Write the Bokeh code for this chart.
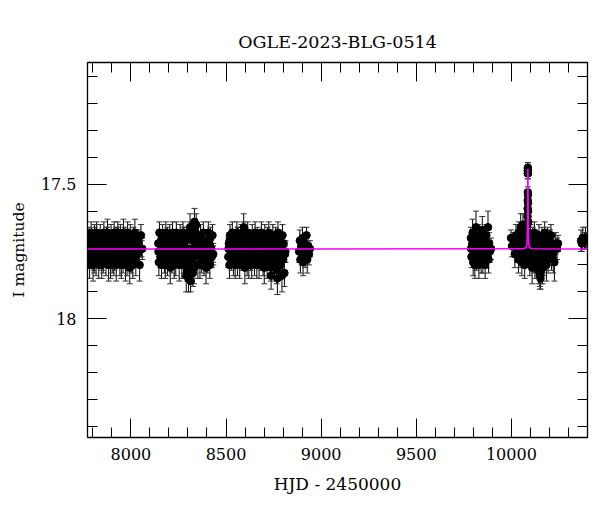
from bokeh.plotting import figure
from bokeh.models import (Range1d, LinearAxis, Whisker, ColumnDataSource,
                          SingleIntervalTicker, CustomJSTickFormatter, TeeHead)
from bokeh.embed import file_html
from bokeh.resources import INLINE

TITLE = "OGLE-2023-BLG-0514"
XLABEL = "HJD - 2450000"
YLABEL = "I magnitude"

# ---- season 1 ----
S1_T = [7778,7780,7783,7785,7788,7791,7793,7796,7799,7801,
        7804,7807,7809,7812,7815,7817,7820,7823,7826,7828,
        7831,7834,7836,7839,7842,7845,7847,7850,7853,7855,
        7858,7861,7864,7866,7869,7872,7874,7877,7880,7883,
        7885,7888,7891,7893,7896,7899,7902,7904,7907,7910,
        7912,7915,7918,7921,7923,7926,7929,7931,7934,7937,
        7940,7942,7945,7948,7950,7953,7956,7959,7961,7964,
        7967,7969,7972,7975,7978,7980,7983,7986,7988,7991,
        7994,7997,7999,8002,8005,8007,8010,8013,8016,8018,
        8021,8024,8026,8029,8032,8035,8040,8046,8053,8060,
        7779,7786,7790,7795,7800,7805,7811,7816,7821,7827,
        7832,7838,7843,7848,7854,7859,7865,7870,7876,7881,
        7887,7892,7897,7903,7908,7914,7919,7924,7930,7935,
        7941,7946,7952,7957,7962,7968,7973,7979,7984,7990,
        7995,8000,8006,8011,8017,8022,8028,8033,8044,8056]
S1_M = [17.76,17.70,17.80,17.72,17.74,17.68,17.77,17.75,17.71,17.80,
        17.73,17.78,17.69,17.76,17.72,17.79,17.68,17.74,17.76,17.70,
        17.80,17.75,17.72,17.69,17.77,17.73,17.80,17.71,17.76,17.78,
        17.68,17.74,17.76,17.72,17.79,17.70,17.75,17.68,17.77,17.80,
        17.72,17.71,17.76,17.80,17.69,17.74,17.78,17.72,17.73,17.79,
        17.68,17.76,17.75,17.70,17.80,17.72,17.77,17.68,17.74,17.76,
        17.71,17.79,17.69,17.76,17.80,17.73,17.72,17.78,17.68,17.75,
        17.77,17.70,17.80,17.72,17.74,17.79,17.68,17.76,17.71,17.76,
        17.81,17.69,17.75,17.78,17.72,17.73,17.80,17.70,17.77,17.74,
        17.68,17.76,17.79,17.72,17.76,17.71,17.75,17.80,17.69,17.74,
        17.74,17.71,17.77,17.73,17.75,17.78,17.70,17.74,17.73,17.76,
        17.72,17.75,17.74,17.78,17.71,17.73,17.76,17.74,17.70,17.75,
        17.77,17.73,17.71,17.75,17.74,17.78,17.72,17.76,17.73,17.70,
        17.75,17.74,17.77,17.72,17.76,17.73,17.75,17.71,17.74,17.78,
        17.73,17.76,17.72,17.75,17.74,17.77,17.71,17.75,17.73,17.74]
S1_E = [.04,.04,.05,.03,.04,.04,.04,.03,.04,.06,
        .03,.05,.04,.04,.03,.05,.04,.04,.04,.03,
        .05,.04,.03,.04,.04,.03,.05,.04,.04,.05,
        .04,.03,.04,.04,.05,.04,.03,.05,.04,.06,
        .03,.04,.04,.05,.04,.03,.05,.04,.03,.05,
        .04,.04,.03,.04,.06,.03,.04,.04,.04,.03,
        .04,.05,.04,.04,.05,.03,.04,.05,.05,.03,
        .04,.04,.06,.03,.04,.05,.04,.04,.04,.03,
        .06,.04,.03,.05,.04,.03,.05,.04,.04,.03,
        .05,.04,.05,.03,.04,.04,.03,.06,.04,.04,
        .04,.03,.04,.04,.03,.04,.04,.03,.04,.04,
        .03,.04,.04,.04,.03,.04,.04,.03,.04,.04,
        .04,.03,.04,.04,.03,.04,.04,.04,.03,.04,
        .04,.03,.04,.04,.04,.03,.04,.04,.03,.04,
        .04,.04,.03,.04,.04,.03,.04,.04,.04,.03]

# ---- season 2 ----
S2_T = [8144,8147,8150,8152,8155,8158,8161,8164,8167,8170,
        8173,8176,8178,8181,8184,8187,8190,8193,8196,8199,
        8202,8204,8207,8210,8213,8216,8219,8222,8225,8228,
        8230,8233,8236,8239,8242,8245,8248,8251,8254,8256,
        8259,8262,8265,8268,8271,8274,8277,8280,8282,8285,
        8288,8291,8294,8297,8300,8303,8306,8308,8311,8314,
        8317,8320,8323,8326,8329,8332,8334,8337,8340,8343,
        8346,8349,8352,8355,8358,8360,8363,8366,8369,8372,
        8375,8378,8381,8384,8386,8389,8392,8395,8398,8401,
        8404,8407,8410,8412,8415,8418,8421,8425,8429,8433,
        8145,8151,8157,8163,8169,8175,8180,8186,8192,8198,
        8203,8209,8215,8221,8227,8232,8238,8244,8250,8255,
        8261,8267,8273,8279,8284,8290,8296,8302,8307,8313,
        8319,8325,8331,8336,8342,8348,8354,8359,8365,8371,
        8377,8383,8388,8394,8400,8406,8411,8417,8423,8431]
S2_M = [17.72,17.79,17.68,17.75,17.77,17.71,17.80,17.73,17.69,17.76,
        17.74,17.78,17.72,17.80,17.68,17.76,17.70,17.79,17.75,17.72,
        17.77,17.69,17.81,17.72,17.74,17.78,17.68,17.76,17.73,17.80,
        17.71,17.76,17.79,17.68,17.75,17.70,17.77,17.72,17.80,17.74,
        17.69,17.76,17.72,17.80,17.76,17.68,17.78,17.73,17.77,17.71,
        17.75,17.84,17.70,17.74,17.79,17.85,17.76,17.68,17.66,17.86,
        17.76,17.69,17.78,17.83,17.71,17.81,17.64,17.77,17.68,17.65,
        17.74,17.72,17.80,17.70,17.76,17.72,17.80,17.69,17.76,17.78,
        17.73,17.77,17.68,17.79,17.74,17.71,17.76,17.81,17.72,17.75,
        17.78,17.68,17.76,17.72,17.80,17.70,17.75,17.77,17.69,17.76,
        17.75,17.72,17.76,17.74,17.71,17.77,17.73,17.75,17.70,17.74,
        17.76,17.73,17.72,17.75,17.78,17.74,17.71,17.76,17.73,17.75,
        17.72,17.74,17.77,17.70,17.75,17.80,17.82,17.77,17.81,17.78,
        17.74,17.70,17.68,17.67,17.70,17.73,17.76,17.74,17.71,17.75,
        17.73,17.77,17.72,17.74,17.76,17.71,17.75,17.73,17.74,17.76]
S2_E = [.04,.05,.04,.03,.04,.04,.05,.03,.04,.04,
        .03,.05,.04,.05,.04,.04,.03,.05,.04,.03,
        .04,.04,.06,.03,.04,.05,.04,.04,.03,.05,
        .04,.03,.05,.04,.04,.03,.04,.04,.06,.03,
        .04,.04,.03,.05,.04,.04,.05,.03,.04,.04,
        .03,.06,.04,.04,.05,.05,.04,.04,.05,.04,
        .04,.04,.05,.05,.04,.06,.05,.04,.04,.04,
        .03,.04,.05,.04,.04,.03,.05,.04,.04,.05,
        .04,.04,.04,.05,.03,.04,.04,.06,.04,.03,
        .05,.04,.04,.03,.05,.04,.03,.04,.04,.04,
        .04,.03,.04,.04,.03,.04,.04,.03,.04,.04,
        .03,.04,.04,.04,.03,.04,.04,.03,.04,.04,
        .04,.03,.04,.04,.03,.05,.04,.04,.05,.04,
        .04,.03,.04,.04,.04,.03,.04,.04,.03,.04,
        .04,.04,.03,.04,.04,.03,.04,.04,.04,.03]

# ---- season 3 ----
S3_T = [8512,8515,8518,8521,8524,8527,8530,8533,8536,8539,
        8542,8545,8548,8551,8554,8557,8560,8563,8566,8569,
        8572,8575,8578,8581,8584,8587,8590,8593,8596,8599,
        8602,8605,8608,8611,8614,8617,8620,8623,8626,8629,
        8632,8635,8638,8641,8644,8647,8650,8653,8656,8659,
        8662,8665,8668,8671,8674,8677,8680,8683,8686,8689,
        8692,8695,8698,8701,8704,8707,8710,8713,8716,8719,
        8722,8725,8728,8731,8734,8737,8740,8743,8746,8749,
        8752,8755,8758,8761,8764,8767,8770,8773,8776,8779,
        8782,8785,8788,8791,8794,8797,8800,8803,8807,8812,
        8513,8519,8525,8532,8538,8544,8550,8556,8562,8568,
        8574,8580,8586,8592,8598,8604,8610,8616,8622,8628,
        8634,8640,8646,8652,8658,8664,8670,8676,8682,8688,
        8694,8700,8706,8712,8718,8724,8730,8736,8742,8748,
        8754,8760,8766,8772,8778,8784,8790,8796,8802,8810]
S3_M = [17.77,17.72,17.80,17.69,17.75,17.73,17.78,17.68,17.76,17.79,
        17.71,17.74,17.80,17.72,17.76,17.68,17.79,17.70,17.75,17.73,
        17.80,17.72,17.76,17.69,17.78,17.74,17.68,17.66,17.72,17.81,
        17.70,17.76,17.73,17.79,17.68,17.76,17.80,17.71,17.74,17.78,
        17.72,17.80,17.69,17.75,17.77,17.72,17.79,17.68,17.76,17.73,
        17.80,17.70,17.76,17.72,17.80,17.71,17.74,17.78,17.68,17.76,
        17.73,17.79,17.72,17.81,17.69,17.75,17.77,17.72,17.80,17.70,
        17.76,17.68,17.78,17.74,17.71,17.84,17.73,17.76,17.69,17.79,
        17.72,17.80,17.75,17.70,17.77,17.72,17.85,17.68,17.76,17.74,
        17.79,17.71,17.76,17.73,17.84,17.69,17.78,17.72,17.83,17.75,
        17.74,17.71,17.76,17.73,17.75,17.72,17.77,17.74,17.70,17.75,
        17.73,17.76,17.71,17.74,17.78,17.72,17.75,17.73,17.76,17.74,
        17.71,17.75,17.77,17.73,17.74,17.72,17.76,17.75,17.70,17.74,
        17.77,17.73,17.75,17.72,17.76,17.74,17.78,17.81,17.75,17.73,
        17.79,17.76,17.82,17.74,17.77,17.80,17.73,17.78,17.75,17.76]
S3_E = [.04,.03,.05,.04,.04,.03,.04,.04,.04,.05,
        .04,.04,.05,.03,.04,.04,.05,.04,.03,.04,
        .05,.04,.04,.04,.04,.03,.04,.05,.03,.06,
        .04,.04,.03,.05,.04,.04,.05,.03,.04,.04,
        .03,.05,.04,.04,.04,.03,.05,.04,.04,.03,
        .05,.04,.04,.03,.05,.04,.03,.04,.04,.04,
        .04,.05,.03,.06,.04,.04,.04,.03,.05,.04,
        .04,.04,.04,.03,.04,.05,.04,.04,.04,.05,
        .03,.05,.04,.04,.04,.03,.06,.04,.04,.04,
        .05,.04,.04,.03,.06,.04,.04,.03,.05,.04,
        .04,.03,.04,.04,.03,.04,.04,.03,.04,.04,
        .03,.04,.04,.04,.03,.04,.04,.03,.04,.04,
        .04,.03,.04,.04,.03,.04,.04,.04,.03,.04,
        .04,.03,.04,.04,.04,.03,.04,.05,.03,.04,
        .05,.04,.05,.04,.04,.05,.04,.04,.04,.03]

# ---- season 4 ----
S4_T = [8884,8888,8891,8895,8898,8902,8905,8909,8912,8916,8919,8923,8927,8931,8936,8941]
S4_M = [17.75,17.71,17.78,17.73,17.76,17.70,17.79,17.74,17.72,17.77,17.75,17.69,17.78,17.73,17.76,17.74]
S4_E = [.04,.04,.05,.03,.04,.04,.05,.04,.03,.04,.04,.03,.05,.04,.04,.03]

# ---- season 5 ----
S5_T = [9787,9790,9793,9796,9799,9802,9805,9808,9811,9814,
        9817,9820,9823,9826,9829,9832,9835,9838,9841,9844,
        9847,9850,9853,9856,9859,9862,9865,9868,9871,9874,
        9877,9880,9883,9887,9893,
        9788,9795,9801,9807,9813,9819,9825,9831,9837,9843,
        9849,9855,9861,9867,9873]
S5_M = [17.70,17.77,17.73,17.68,17.79,17.75,17.71,17.80,17.74,17.66,
        17.78,17.72,17.76,17.69,17.80,17.73,17.75,17.70,17.78,17.74,
        17.67,17.79,17.72,17.76,17.71,17.80,17.74,17.69,17.77,17.73,
        17.66,17.78,17.72,17.75,17.74,
        17.74,17.72,17.76,17.73,17.75,17.71,17.74,17.77,17.73,17.75,
        17.72,17.74,17.76,17.73,17.75]
S5_E = [.04,.04,.03,.05,.05,.04,.04,.05,.03,.06,
        .04,.04,.04,.04,.05,.03,.04,.04,.05,.04,
        .05,.04,.03,.04,.04,.05,.03,.04,.04,.04,
        .06,.05,.04,.04,.04,
        .04,.03,.04,.04,.03,.04,.04,.04,.03,.04,
        .04,.03,.04,.04,.04]

# ---- season 6 (baseline part) ----
S6_T = [9998,10003,10012,10018,10024,10030,10034,10037,10040,10043,
        10046,10049,10052,10055,10058,10061,10064,10067,10070,10073,
        10076,10079,10082,10094,10097,10100,10103,10106,10109,10112,
        10115,10118,10121,10124,10127,10130,10133,10136,10139,10142,
        10145,10148,10151,10154,10157,10160,10163,10166,10169,10172,
        10175,10178,10181,10184,10187,10190,10193,10196,10199,10202,
        10205,10208,10211,10215,10220,10226,10233,10240,10245,
        10036,10042,10048,10054,10060,10066,10072,10078,10096,10102,
        10108,10114,10120,10126,10132,10138,10144,10150,10153,10156,
        10162,10168,10174,10180,10186,10192,10198,10204,10210,10218]
S6_M = [17.70,17.73,17.72,17.76,17.69,17.75,17.71,17.78,17.68,17.74,
        17.77,17.66,17.73,17.79,17.70,17.65,17.76,17.72,17.80,17.68,
        17.74,17.71,17.77,17.73,17.79,17.69,17.76,17.72,17.81,17.70,
        17.75,17.78,17.68,17.80,17.73,17.77,17.71,17.79,17.74,17.82,
        17.69,17.76,17.84,17.72,17.78,17.70,17.81,17.75,17.73,17.79,
        17.68,17.77,17.72,17.80,17.74,17.70,17.78,17.73,17.76,17.71,
        17.75,17.69,17.77,17.73,17.78,17.79,17.72,17.74,17.72,
        17.74,17.71,17.75,17.73,17.68,17.76,17.72,17.74,17.75,17.73,
        17.77,17.71,17.74,17.76,17.73,17.78,17.75,17.83,17.85,17.82,
        17.74,17.72,17.76,17.73,17.77,17.74,17.71,17.75,17.73,17.76]
S6_E = [.03,.04,.04,.05,.04,.04,.04,.05,.04,.03,
        .04,.05,.04,.05,.04,.04,.04,.03,.05,.04,
        .04,.04,.04,.03,.05,.04,.04,.04,.06,.04,
        .04,.05,.04,.05,.04,.04,.03,.05,.04,.05,
        .04,.04,.05,.04,.05,.04,.06,.04,.03,.05,
        .04,.05,.04,.06,.04,.04,.05,.04,.04,.04,
        .04,.04,.05,.04,.05,.07,.04,.04,.03,
        .04,.03,.04,.04,.04,.03,.04,.04,.03,.04,
        .04,.03,.04,.04,.03,.04,.04,.05,.04,.05,
        .04,.03,.04,.04,.03,.04,.04,.03,.04,.04]

# ---- season 6 (event) ----
EV_T = [10083.0,10083.8,10084.5,10085.0,10085.4,10085.7,10086.0,10086.3,10086.4,10086.5,
        10086.6,10086.7,10086.9,10087.2,10087.5,10087.9,10088.5,10089.2,10090.0]
EV_M = [17.71,17.68,17.65,17.62,17.59,17.56,17.53,17.46,17.45,17.44,
        17.45,17.44,17.46,17.54,17.57,17.60,17.64,17.68,17.70]
EV_E = [.04,.04,.04,.04,.03,.03,.02,.02,.02,.02,
        .02,.02,.02,.02,.03,.03,.04,.04,.04]

# ---- season 7 ----
S7_T = [10366,10370,10375,10384,10389,10393]
S7_M = [17.71,17.72,17.70,17.71,17.70,17.71]
S7_E = [.04,.03,.04,.03,.04,.03]

# ---- model curve ----
MOD_T = [7772,10060,10075,10079,10081,10082.5,10083.5,10084.5,10085.2,10085.7,
         10086.1,10086.4,10086.6,10086.9,10087.3,10087.8,10088.5,10089.5,10090.5,
         10092,10094,10098,10112,10400]
MOD_M = [17.741,17.740,17.737,17.732,17.724,17.71,17.69,17.655,17.60,17.54,
         17.48,17.447,17.443,17.46,17.52,17.58,17.64,17.69,17.71,
         17.724,17.732,17.737,17.740,17.741]

hjd = S1_T + S2_T + S3_T + S4_T + S5_T + S6_T + EV_T + S7_T
mag = S1_M + S2_M + S3_M + S4_M + S5_M + S6_M + EV_M + S7_M
err = S1_E + S2_E + S3_E + S4_E + S5_E + S6_E + EV_E + S7_E
n = min(len(hjd), len(mag), len(err))
hjd, mag, err = hjd[:n], mag[:n], err[:n]

src = ColumnDataSource(dict(
    x=hjd, y=mag,
    lo=[m - e for m, e in zip(mag, err)],
    hi=[m + e for m, e in zip(mag, err)],
))

FONT = "DejaVu Serif"

p = figure(frame_width=500, frame_height=375,
           x_range=Range1d(7772, 10400), y_range=Range1d(18.441, 17.048),
           output_backend="svg", toolbar_location=None,
           min_border_left=87, min_border_top=62, min_border_right=5, min_border_bottom=60)
p.background_fill_color = "white"
p.border_fill_color = "white"
p.xgrid.grid_line_color = None
p.ygrid.grid_line_color = None
p.outline_line_color = "black"
p.outline_line_width = 1.3

p.title.text = TITLE
p.title.align = "center"
p.title.text_font = FONT
p.title.text_font_size = "17.5px"
p.title.text_font_style = "normal"
p.title.text_color = "black"
p.title.standoff = 22

def style_axis(ax, labels=True):
    ax.axis_line_color = None
    ax.major_tick_in = 19
    ax.major_tick_out = 0
    ax.minor_tick_in = 10
    ax.minor_tick_out = 0
    ax.major_tick_line_color = "black"
    ax.minor_tick_line_color = "black"
    ax.major_tick_line_width = 1
    ax.minor_tick_line_width = 1
    ax.major_label_text_font = FONT
    ax.major_label_text_font_size = "16px"
    ax.major_label_text_color = "black"
    ax.axis_label_text_font = FONT
    ax.axis_label_text_font_size = "17px"
    ax.axis_label_text_font_style = "normal"
    ax.axis_label_text_color = "black"
    if not labels:
        ax.formatter = CustomJSTickFormatter(code="return ''")
        ax.major_label_standoff = 0

p.xaxis.ticker = SingleIntervalTicker(interval=500, num_minor_ticks=5)
p.yaxis.ticker = SingleIntervalTicker(interval=0.5, num_minor_ticks=5)
p.yaxis.formatter = CustomJSTickFormatter(code="return tick.toString()")
p.xaxis.axis_label = XLABEL
p.yaxis.axis_label = YLABEL
style_axis(p.xaxis[0])
style_axis(p.yaxis[0])
p.yaxis.axis_label_text_font_size = "15.5px"
p.xaxis.major_label_standoff = 10
p.yaxis.major_label_standoff = 11
p.xaxis.axis_label_standoff = 11
p.yaxis.axis_label_standoff = 10

top = LinearAxis(ticker=SingleIntervalTicker(interval=500, num_minor_ticks=5))
right = LinearAxis(ticker=SingleIntervalTicker(interval=0.5, num_minor_ticks=5))
style_axis(top, labels=False)
style_axis(right, labels=False)
p.add_layout(top, "above")
p.add_layout(right, "right")

wh = Whisker(source=src, base="x", upper="hi", lower="lo", dimension="height",
             line_color="black", line_width=1,
             upper_head=TeeHead(size=6, line_color="#333333", line_width=1),
             lower_head=TeeHead(size=6, line_color="#333333", line_width=1))
p.add_layout(wh)

p.scatter("x", "y", source=src, size=7.5, color="black")
p.line(MOD_T, MOD_M, line_color="#ff00ff", line_width=1.6)

open("out.html", "w").write(file_html(p, INLINE))
